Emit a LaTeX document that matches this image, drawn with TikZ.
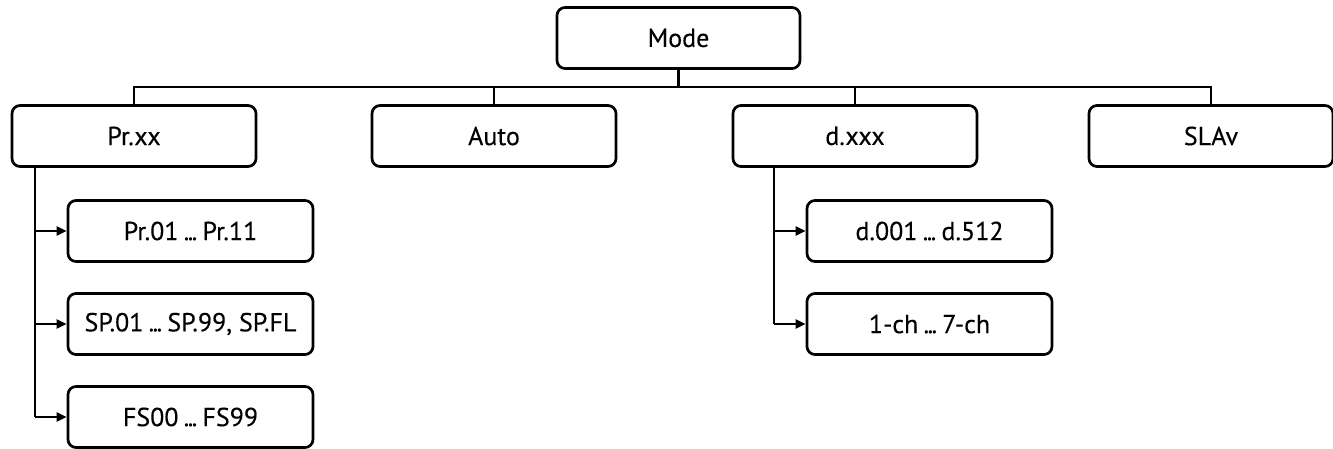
\documentclass[tikz,border=0pt]{standalone}
\usepackage{fontspec}
\setmainfont{PT Sans}
\newfontfamily\boxfont[FakeBold=0.25]{PT Sans}
\usetikzlibrary{arrows.meta}
\newcommand{\tdots}{\hspace{0.2em}.\kern-0.06em.\kern-0.06em.\hspace{0.2em}}
\begin{document}
\begin{tikzpicture}[x=1pt,y=-1pt,
  box/.style={draw, line width=2.7pt, rounded corners=8pt, minimum width=244pt, minimum height=61pt, inner sep=0pt, font=\boxfont\fontsize{26}{30}\selectfont},
  conn/.style={line width=2.7pt},
  arr/.style={line width=2.7pt, -{Triangle[length=10pt,width=9pt]}}]
\useasboundingbox (0,0) rectangle (1333,448);
\node[box, minimum width=243pt] (mode) at (678.5,38) {Mode};
\node[box] (pr) at (134,136) {Pr.xx};
\node[box] (auto) at (494,136) {Auto};
\node[box] (d) at (855,136) {d.xxx};
\node[box] (slav) at (1211,136) {SLAv};
\node[box, minimum width=245pt] (p1) at (190.5,231) {Pr.01\tdots{}Pr.11};
\node[box, minimum width=245pt] (p2) at (190.5,324) {SP.01\tdots{}SP.99, SP.FL};
\node[box, minimum width=245pt] (p3) at (190.5,417) {FS00\tdots{}FS99};
\node[box, minimum width=245pt] (d1) at (929.5,231) {d.001\tdots{}d.512};
\node[box, minimum width=245pt] (d2) at (929.5,324) {1-ch\tdots{}7-ch};
\coordinate (bus) at (678.5,87);
\draw[conn] (mode.south) -- (bus);
\draw[conn] (pr.north) |- (bus) -| (slav.north);
\draw[conn] (auto.north) -- (auto.north |- bus);
\draw[conn] (d.north) -- (d.north |- bus);
\coordinate (pl) at (35,167);
\coordinate (dl) at (774,167);
\draw[conn] (pl) -- (pl |- p3.west);
\draw[arr] (pl |- p1.west) -- (p1.west);
\draw[arr] (pl |- p2.west) -- (p2.west);
\draw[arr] (pl |- p3.west) -- (p3.west);
\draw[conn] (dl) -- (dl |- d2.west);
\draw[arr] (dl |- d1.west) -- (d1.west);
\draw[arr] (dl |- d2.west) -- (d2.west);
\end{tikzpicture}
\end{document}
